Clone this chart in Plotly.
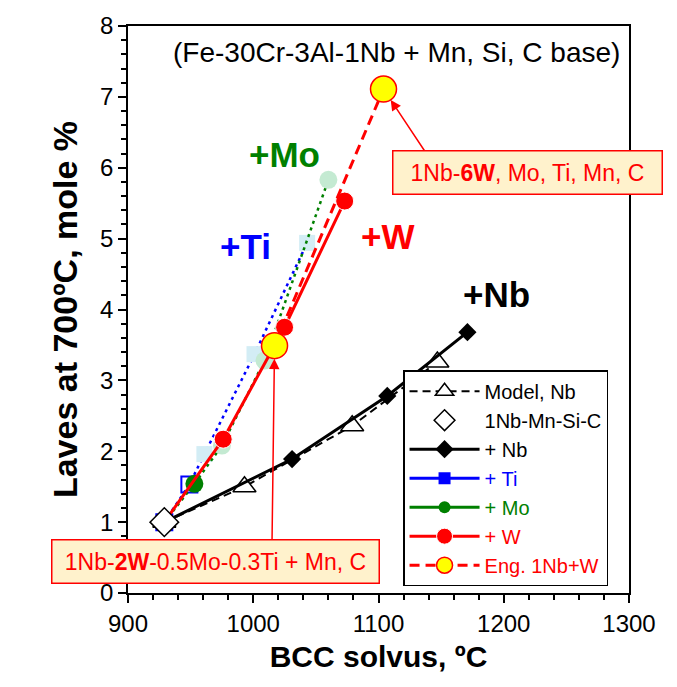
import plotly.graph_objects as go

FONT = "Arial, Liberation Sans, sans-serif"

# Base alloy (1Nb-Mn-Si-C)
base_x = [929]
base_y = [1.0]

# Model prediction for Nb additions
model_nb_x = [929, 993, 1079, 1147]
model_nb_y = [1.0, 1.50, 2.36, 3.26]

# + Nb series
nb_x = [929, 1031, 1107, 1171]
nb_y = [1.0, 1.89, 2.78, 3.68]

# + Ti series
ti_x = [929, 949, 961, 1001, 1043]
ti_y = [1.0, 1.53, 1.96, 3.37, 4.94]

# + Mo series
mo_x = [929, 953, 975, 1009, 1060]
mo_y = [1.0, 1.54, 2.08, 3.28, 5.83]

# + W series
w_x = [929, 976, 1025, 1073]
w_y = [1.0, 2.17, 3.75, 5.53]

# Engineered 1Nb+W alloys
eng_x = [1017, 1104]
eng_y = [3.49, 7.11]

RED = "#FF0000"
BLUE = "#0000FF"
GREEN = "#008000"
PALE_BLUE = "#D3EDF5"
PALE_GREEN = "#C4EAD2"

fig = go.Figure()

fig.add_trace(go.Scatter(
    x=model_nb_x, y=model_nb_y, mode="lines+markers", name="Model, Nb",
    line=dict(color="black", width=2, dash="8px,5px"),
    marker=dict(symbol="triangle-up", size=20, color="white",
                line=dict(color="black", width=1.5)),
    legendrank=1))

fig.add_trace(go.Scatter(
    x=nb_x, y=nb_y, mode="lines+markers", name="+ Nb",
    line=dict(color="black", width=3),
    marker=dict(symbol="diamond", size=14, color="black"),
    legendrank=3))

ti_colors = [BLUE, BLUE, PALE_BLUE, PALE_BLUE, PALE_BLUE]
fig.add_trace(go.Scatter(
    x=ti_x, y=ti_y, mode="lines+markers", showlegend=False,
    line=dict(color=BLUE, width=2.5, dash="3px,4px"),
    marker=dict(symbol=["square-open", "square-open", "square", "square", "square"],
                size=16, color=ti_colors,
                line=dict(width=[2, 2, 0, 0, 0], color=ti_colors))))

fig.add_trace(go.Scatter(
    x=mo_x, y=mo_y, mode="lines+markers", showlegend=False,
    line=dict(color=GREEN, width=2.5, dash="3px,4px"),
    marker=dict(symbol="circle", size=18,
                color=[GREEN, GREEN, PALE_GREEN, PALE_GREEN, PALE_GREEN])))

fig.add_trace(go.Scatter(
    x=w_x, y=w_y, mode="lines+markers", name="<span style='color:#FF0000'>+ W</span>",
    line=dict(color=RED, width=3),
    marker=dict(symbol="circle", size=18, color=RED, line=dict(color="white", width=1)),
    legendrank=6))

fig.add_trace(go.Scatter(
    x=eng_x, y=eng_y, mode="lines+markers",
    name="<span style='color:#FF0000'>Eng. 1Nb+W</span>",
    line=dict(color=RED, width=3, dash="10px,6px"),
    marker=dict(symbol="circle", size=26, color="#FFFF00", line=dict(color=RED, width=1.5)),
    legendrank=7))

fig.add_trace(go.Scatter(
    x=base_x, y=base_y, mode="markers", name="1Nb-Mn-Si-C",
    marker=dict(symbol="diamond", size=22, color="white", line=dict(color="black", width=1.5)),
    legendrank=2))

# legend entries for the Ti and Mo series (solid line + marker)
fig.add_trace(go.Scatter(
    x=[None], y=[None], mode="lines+markers",
    name="<span style='color:#0000FF'>+ Ti</span>",
    line=dict(color=BLUE, width=3), marker=dict(symbol="square", size=12, color=BLUE),
    legendrank=4))
fig.add_trace(go.Scatter(
    x=[None], y=[None], mode="lines+markers",
    name="<span style='color:#008000'>+ Mo</span>",
    line=dict(color=GREEN, width=3), marker=dict(symbol="circle", size=12, color=GREEN),
    legendrank=5))

annotations = [
    dict(x=1114, y=7.62, text="(Fe-30Cr-3Al-1Nb + Mn, Si, C base)", showarrow=False,
         font=dict(size=28, color="black")),
    dict(x=1025, y=6.19, text="<b>+Mo</b>", showarrow=False, font=dict(size=35, color=GREEN)),
    dict(x=994, y=4.89, text="<b>+Ti</b>", showarrow=False, font=dict(size=35, color=BLUE)),
    dict(x=1107, y=5.03, text="<b>+W</b>", showarrow=False, font=dict(size=35, color=RED)),
    dict(x=1194, y=4.21, text="<b>+Nb</b>", showarrow=False, font=dict(size=35, color="black")),
    # callout arrows
    dict(x=eng_x[1], y=eng_y[1], ax=1139, ay=6.18, axref="x", ayref="y", text="",
         showarrow=True, arrowhead=2, arrowsize=1.4, arrowwidth=1.5, arrowcolor=RED, standoff=13),
    dict(x=eng_x[0], y=eng_y[0], ax=1015, ay=0.74, axref="x", ayref="y", text="",
         showarrow=True, arrowhead=2, arrowsize=1.4, arrowwidth=1.5, arrowcolor=RED, standoff=13),
    # callout boxes
    dict(x=1219, y=5.93, text="1Nb-<b>6W</b>, Mo, Ti, Mn, C", showarrow=False,
         font=dict(size=23, color=RED), bgcolor="#FFF2CC", bordercolor=RED,
         borderwidth=1.5, borderpad=1, width=266, height=40),
    dict(x=970, y=0.44, text="1Nb-<b>2W</b>-0.5Mo-0.3Ti + Mn, C", showarrow=False,
         font=dict(size=23, color=RED), bgcolor="#FFF2CC", bordercolor=RED,
         borderwidth=1.5, borderpad=1, width=324, height=40),
]

axis_common = dict(
    showline=True, mirror=True, linecolor="black", linewidth=1.5,
    ticks="outside", ticklen=8, tickwidth=1.5, tickcolor="black",
    showgrid=False, zeroline=False,
    tickfont=dict(size=24, color="black"),
)

fig.update_layout(
    width=677, height=687,
    margin=dict(l=128, r=48, t=17, b=94),
    paper_bgcolor="white", plot_bgcolor="white",
    font=dict(family=FONT, color="black"),
    showlegend=True,
    legend=dict(x=0.549, y=0.012, xanchor="left", yanchor="bottom",
                bgcolor="white", bordercolor="black", borderwidth=1.5,
                font=dict(size=20, color="black"), itemwidth=70,
                traceorder="normal", tracegroupgap=0),
    annotations=annotations,
    xaxis=dict(range=[900, 1300], dtick=100,
               minor=dict(dtick=20, ticks="outside", ticklen=5, tickcolor="black"),
               title=dict(text="<b>BCC solvus, ºC</b>", font=dict(size=30), standoff=10),
               **axis_common),
    yaxis=dict(range=[0, 8], dtick=1,
               minor=dict(dtick=0.2, ticks="outside", ticklen=5, tickcolor="black"),
               title=dict(text="<b>Laves at 700ºC, mole %</b>", font=dict(size=34), standoff=12),
               **axis_common),
)

fig.write_html("out.html")
